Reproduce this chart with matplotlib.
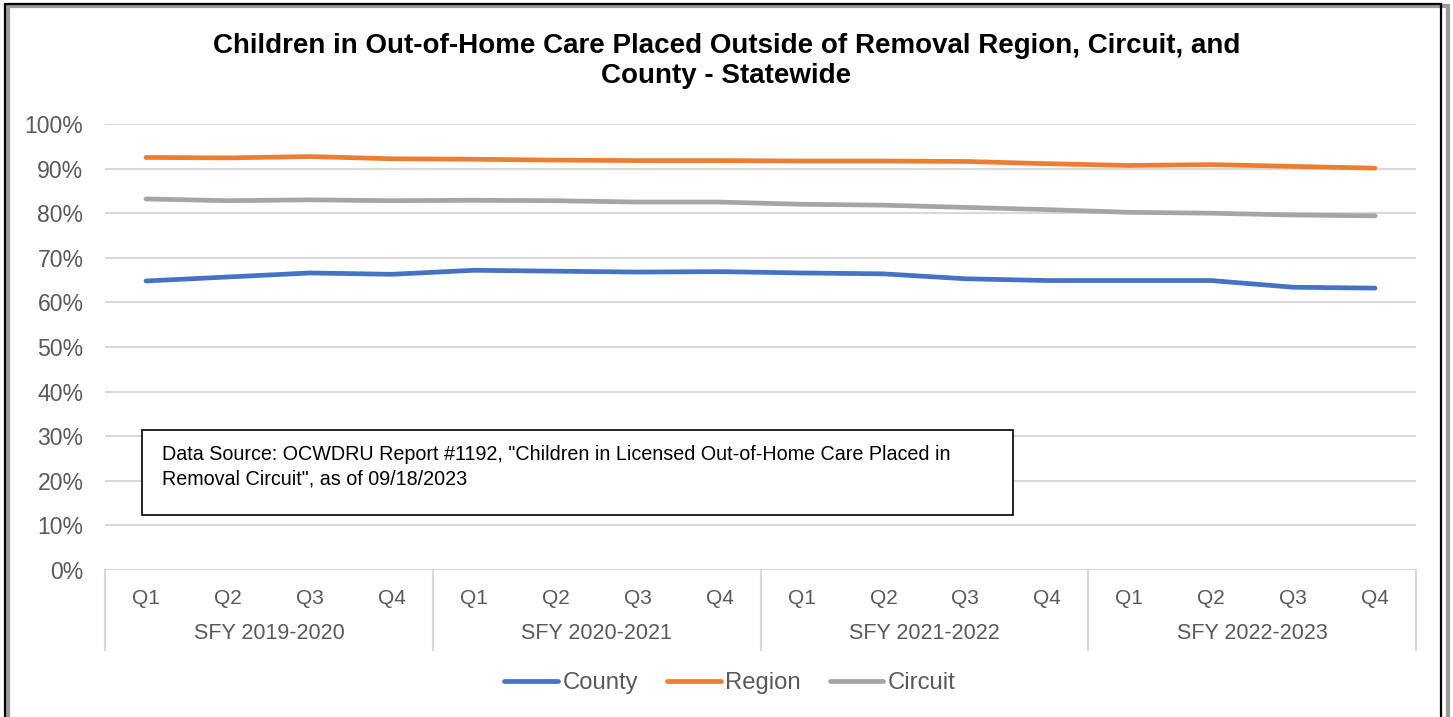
import matplotlib.pyplot as plt
from matplotlib.patches import Rectangle
from matplotlib.ticker import FuncFormatter
import matplotlib.transforms as mtransforms

plt.rcParams["font.family"] = ["Liberation Sans", "DejaVu Sans"]

quarters = ["Q1", "Q2", "Q3", "Q4"] * 4
years = ["SFY 2019-2020", "SFY 2020-2021", "SFY 2021-2022", "SFY 2022-2023"]

county = [64.8, 65.7, 66.6, 66.3, 67.2, 67.0, 66.8, 66.9,
          66.6, 66.4, 65.3, 64.9, 64.9, 64.9, 63.4, 63.2]
region = [92.5, 92.4, 92.7, 92.2, 92.1, 91.9, 91.8, 91.8,
          91.7, 91.7, 91.6, 91.1, 90.7, 90.9, 90.5, 90.1]
circuit = [83.2, 82.8, 83.0, 82.8, 82.9, 82.8, 82.5, 82.5,
           82.0, 81.8, 81.3, 80.8, 80.2, 80.0, 79.6, 79.4]

title_lines = ["Children in Out-of-Home Care Placed Outside of Removal Region, Circuit, and",
               "County - Statewide"]
note_lines = ["Data Source: OCWDRU Report #1192, \"Children in Licensed Out-of-Home Care Placed in",
              "Removal Circuit\", as of 09/18/2023"]

grey_text = "#595959"
grid_col = "#d9d9d9"

W, H = 1453, 717
fig = plt.figure(figsize=(W / 100, H / 100), dpi=100)
ax = fig.add_axes([105 / W, 1 - 570 / H, (1416 - 105) / W, (570 - 124) / H])

x = list(range(len(quarters)))
ax.plot(x, county, color="#4472C4", lw=3.4, solid_capstyle="round", label="County")
ax.plot(x, region, color="#ED7D31", lw=3.4, solid_capstyle="round", label="Region")
ax.plot(x, circuit, color="#A5A5A5", lw=3.4, solid_capstyle="round", label="Circuit")

ax.set_ylim(0, 100)
ax.set_xlim(-0.5, len(quarters) - 0.5)
ax.set_yticks(range(0, 101, 10))
ax.yaxis.set_major_formatter(FuncFormatter(lambda v, p: f"{v:.0f}%"))
ax.yaxis.grid(True, color=grid_col, lw=1.5)
ax.set_axisbelow(True)
for s in ax.spines.values():
    s.set_visible(False)
ax.tick_params(axis="y", length=0, pad=15.5, labelsize=16.6, labelcolor=grey_text)
ax.set_xticks(x)
ax.set_xticklabels(quarters)
ax.tick_params(axis="x", length=0, pad=14, labelsize=15, labelcolor=grey_text)

# group separators and year labels under the quarter ticks
trans = mtransforms.blended_transform_factory(ax.transData, ax.transAxes)
for i in range(len(years) + 1):
    ax.plot([i * 4 - 0.5] * 2, [0, -0.18], transform=trans, color=grid_col,
            lw=1.5, clip_on=False)
for i, yr in enumerate(years):
    ax.text(i * 4 + 1.5, -0.143, yr, transform=trans, ha="center", va="center",
            fontsize=15.5, color=grey_text)

# title, two centred lines
for yy, line in zip([46, 76], title_lines):
    fig.text(0.5, 1 - yy / H, line, ha="center", va="center", fontsize=20,
             fontweight="bold")

# data source note
fig.patches.append(Rectangle((142 / W, 1 - 515 / H), 871 / W, 85 / H,
                             transform=fig.transFigure, fc="white", ec="black",
                             lw=1.2, zorder=3))
for yy, line in zip([454, 479], note_lines):
    fig.text(162 / W, 1 - yy / H, line, ha="left", va="center", fontsize=14.2,
             zorder=4)

fig.legend(*ax.get_legend_handles_labels(), loc="center",
           bbox_to_anchor=(730 / W, 1 - 683 / H), ncol=3,
           frameon=False, fontsize=17.2, handlelength=2.25, handletextpad=0.2,
           columnspacing=1.2, labelcolor=grey_text)

# outer frame with a soft shadow
fig.patches.append(Rectangle((0.0055, -0.02), 0.991, 1.012, transform=fig.transFigure,
                             fill=False, ec="#9a9a9a", lw=3, zorder=0))
fig.patches.append(Rectangle((0.0035, -0.02), 0.9885, 1.014, transform=fig.transFigure,
                             fill=False, ec="black", lw=1.6, zorder=1))

fig.savefig("out.png", dpi=100)
